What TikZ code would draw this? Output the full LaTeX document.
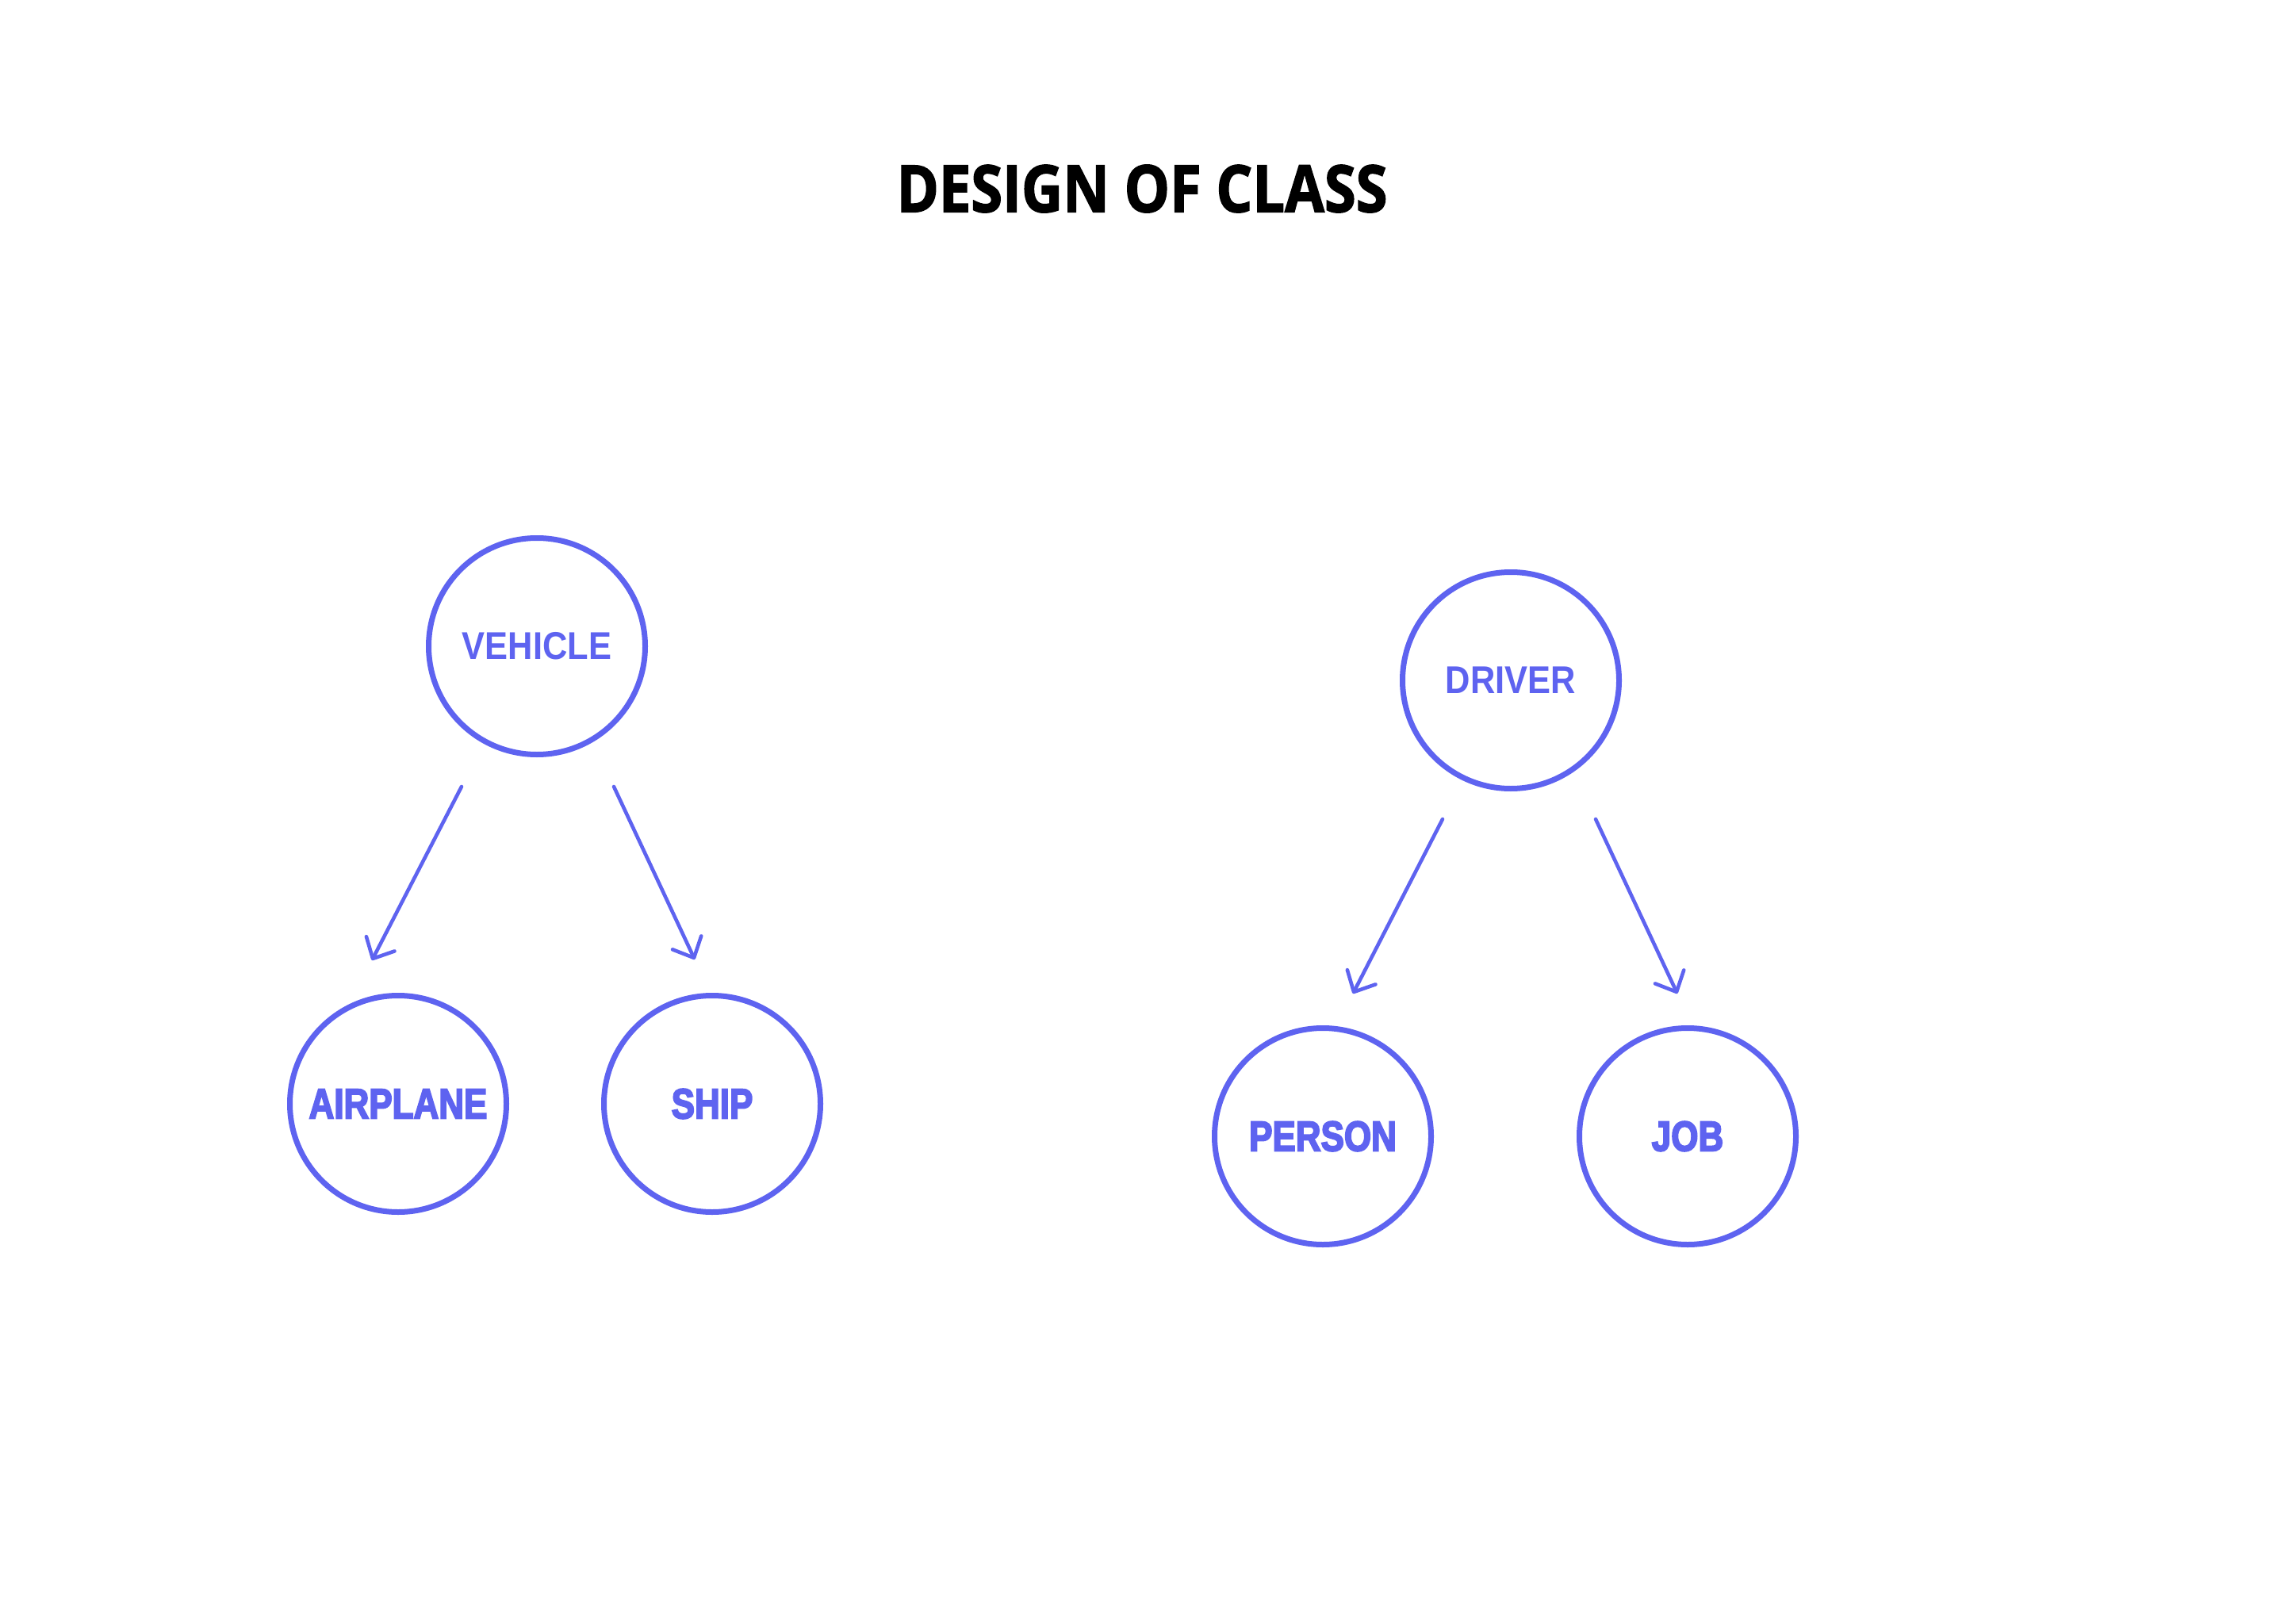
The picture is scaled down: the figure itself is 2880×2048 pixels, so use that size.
\documentclass[tikz,border=0pt]{standalone}
\usepackage{fontspec}
\usetikzlibrary{arrows.meta}
\setmainfont{Liberation Sans}
\newfontfamily\titlefont{Open Sans}[BoldFeatures={FakeBold=2}]
\newfontfamily\midfont{Liberation Sans}
\newfontfamily\heavyfont{Liberation Sans}[BoldFeatures={FakeBold=4}]
\definecolor{violet}{HTML}{5E63F0}
\tikzset{
  classnode/.style={circle, draw=violet, line width=3.5pt, minimum size=136.5pt, inner sep=0pt, text=violet},
  parentlabel/.style={classnode, font=\midfont\bfseries\fontsize{24.4}{28}\selectfont},
  childlabel/.style={classnode, font=\heavyfont\bfseries\fontsize{26.5}{30}\selectfont},
  inherit/.style={draw=violet, line width=2.3pt, line cap=round, line join=round, -{Straight Barb[length=10.5pt,width=20pt,line cap=round,line join=round]}}
}
\begin{document}
\begin{tikzpicture}[x=0.5pt,y=-0.5pt]
\useasboundingbox (0,0) rectangle (2880,2048);
\fill[white] (0,0) rectangle (2880,2048);
\node[font=\titlefont\bfseries\fontsize{41}{48}\selectfont, inner sep=0pt] (title) at (1440,238) {\scalebox{0.88}[1]{DESIGN OF CLASS}};

\node[parentlabel] (vehicle) at (677,815) {\scalebox{0.89}[1]{VEHICLE}};
\node[childlabel] (airplane) at (502,1392) {\scalebox{0.83}[1]{AIRPLANE}};
\node[childlabel] (ship) at (898,1392) {\scalebox{0.83}[1]{SHIP}};

\node[parentlabel] (driver) at (1905,858) {\scalebox{0.89}[1]{DRIVER}};
\node[childlabel] (person) at (1668,1433) {\scalebox{0.83}[1]{PERSON}};
\node[childlabel] (job) at (2128,1433) {\scalebox{0.83}[1]{JOB}};

\coordinate (va) at (582,992);
\coordinate (aa) at (469,1211);
\coordinate (vs) at (774,992);
\coordinate (as) at (876,1210);
\coordinate (dp) at (1819,1033);
\coordinate (ap) at (1706,1253);
\coordinate (dj) at (2012,1033);
\coordinate (aj) at (2115,1253);

\draw[inherit] (va) -- (aa);
\draw[inherit] (vs) -- (as);
\draw[inherit] (dp) -- (ap);
\draw[inherit] (dj) -- (aj);
\end{tikzpicture}
\end{document}
